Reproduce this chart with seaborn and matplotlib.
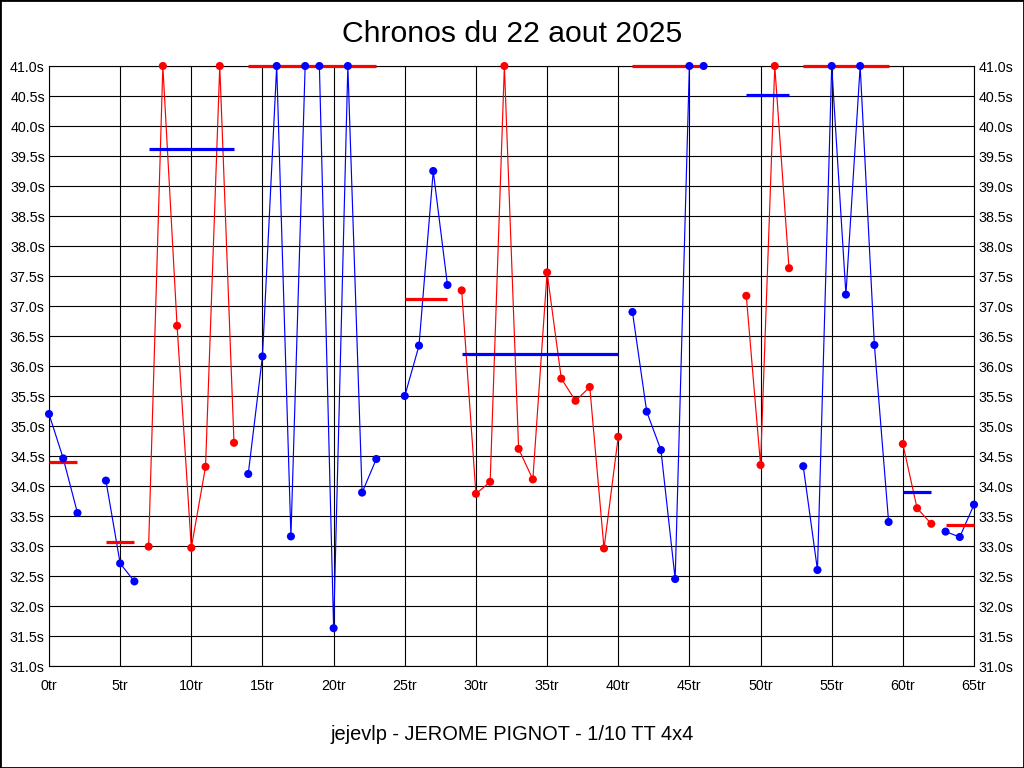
import numpy as np
import pandas as pd
import matplotlib
matplotlib.use("Agg")
import matplotlib.pyplot as plt
import seaborn as sns
from matplotlib.patches import Rectangle

# ---- data (lap times in seconds, values above 41.0s are shown capped at 41.0s) ----
stint_first_lap = [0, 4, 7, 14, 25, 29, 41, 49, 53, 60, 63]
stint_colors = ["blue", "blue", "red", "blue", "blue", "red", "blue", "red", "blue", "red", "blue"]
avg_colors = ["red", "red", "blue", "red", "red", "blue", "red", "blue", "red", "blue", "red"]

stint1 = [35.20, 34.46, 33.55]
stint2 = [34.09, 32.71, 32.41]
stint3 = [32.99, 41.0, 36.67, 32.97, 34.32, 41.0, 34.72]
stint4 = [34.20, 36.16, 41.0, 33.16, 41.0, 41.0, 31.63, 41.0, 33.89, 34.45]
stint5 = [35.50, 36.34, 39.25, 37.35]
stint6 = [37.26, 33.87, 34.07, 41.0, 34.62, 34.11, 37.56, 35.79, 35.42, 35.65, 32.96, 34.82]
stint7 = [36.90, 35.24, 34.60, 32.45, 41.0, 41.0]
stint8 = [37.17, 34.35, 41.0, 37.63]
stint9 = [34.33, 32.60, 41.0, 37.19, 41.0, 36.35, 33.40]
stint10 = [34.70, 33.63, 33.37]
stint11 = [33.24, 33.15, 33.69]
stints = [stint1, stint2, stint3, stint4, stint5, stint6, stint7, stint8, stint9, stint10, stint11]

stint_avg = [34.40, 33.07, 39.62, 41.0, 37.12, 36.20, 41.0, 40.52, 41.0, 33.90, 33.35]

x_ticks = list(range(0, 66, 5))
x_labels = [f"{v}tr" for v in x_ticks]
y_ticks = list(np.arange(31.0, 41.01, 0.5))
y_labels = [f"{v:.1f}s" for v in y_ticks]

title = "Chronos du 22 aout 2025"
footer = "jejevlp - JEROME PIGNOT - 1/10 TT 4x4"

# ---- tables ----
rows = []
avg_rows = []
for i, (start, times) in enumerate(zip(stint_first_lap, stints)):
    for k, t in enumerate(times):
        rows.append({"stint": i, "lap": start + k, "time": t})
    avg_rows.append({"stint": i, "lap": start, "time": stint_avg[i]})
    avg_rows.append({"stint": i, "lap": start + len(times) - 1, "time": stint_avg[i]})
df = pd.DataFrame(rows)
df_avg = pd.DataFrame(avg_rows)

sns.set_style("white")
plt.rcParams["font.family"] = ["Liberation Sans", "DejaVu Sans"]

fig = plt.figure(figsize=(10.24, 7.68), dpi=100)
fig.patch.set_facecolor("white")
ax = fig.add_axes([49 / 1024, 1 - 666 / 768, 925 / 1024, 600 / 768])
ax.set_facecolor("white")

pal_line = {i: c for i, c in enumerate(stint_colors)}
pal_avg = {i: c for i, c in enumerate(avg_colors)}

sns.lineplot(data=df, x="lap", y="time", hue="stint", palette=pal_line,
             estimator=None, sort=False, linewidth=0.85, legend=False, ax=ax,
             zorder=2, clip_on=False)
sns.lineplot(data=df_avg, x="lap", y="time", hue="stint", palette=pal_avg,
             estimator=None, sort=False, linewidth=2.3, legend=False, ax=ax,
             zorder=3, clip_on=False, solid_capstyle="butt")
sns.scatterplot(data=df, x="lap", y="time", hue="stint", palette=pal_line,
                s=34, linewidth=0, legend=False, ax=ax, zorder=4, clip_on=False)

ax.set_xlim(0, 65)
ax.set_ylim(31.0, 41.0)
ax.set_xticks(x_ticks)
ax.set_xticklabels(x_labels)
ax.set_yticks(y_ticks)
ax.set_yticklabels(y_labels)
ax.set_xlabel("")
ax.set_ylabel("")
ax.grid(True, color="black", linewidth=0.8, zorder=1)
ax.set_axisbelow(True)
for sp in ax.spines.values():
    sp.set_color("black")
    sp.set_linewidth(0.8)
ax.tick_params(axis="both", length=0, labelsize=10.3, colors="black")
ax.tick_params(axis="y", labelright=True, right=False, pad=3.0)
ax.tick_params(axis="x", pad=9)

fig.text(0.5, 1 - 34 / 768, title, ha="center", va="center", fontsize=21.7, color="black")
fig.text(0.5, 1 - 735 / 768, footer, ha="center", va="center", fontsize=14.4, color="black")

fig.patches.append(Rectangle((0, 0), 1, 1, transform=fig.transFigure, fill=False,
                             edgecolor="black", linewidth=2, zorder=10))

fig.savefig("out.png", dpi=100, facecolor="white")
